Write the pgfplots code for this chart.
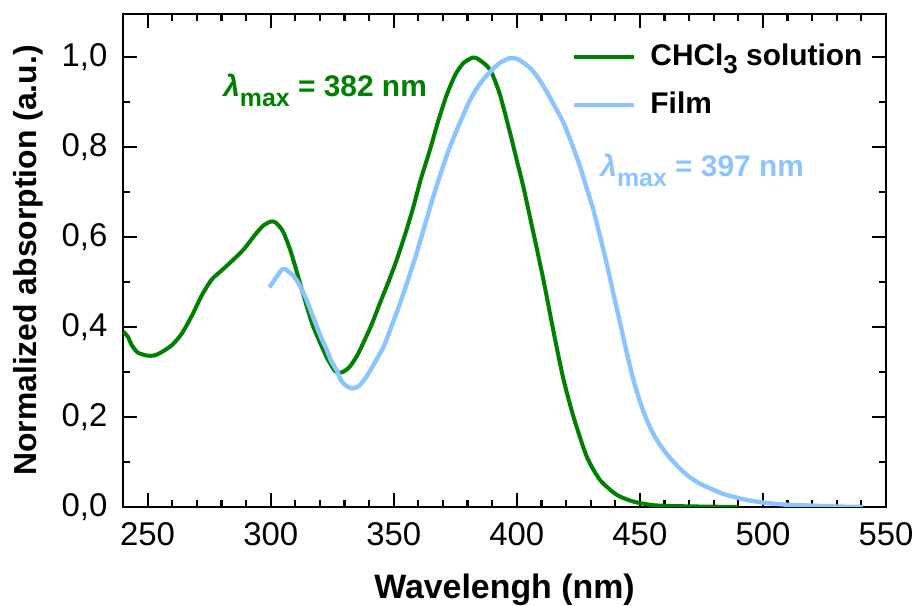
\documentclass[border=0pt]{standalone}
\usepackage{pgfplots}
\pgfplotsset{compat=1.18}
\usepackage{fontspec}
\setmainfont{Liberation Sans}
\definecolor{cgreen}{RGB}{0,128,0}
\definecolor{cblue}{RGB}{140,196,255}
\newcommand{\lmax}{{\bfseries\itshape λ}\raisebox{-5bp}{\fontsize{12.5}{12.5}\selectfont\bfseries max}}
\begin{document}
\begin{tikzpicture}
\useasboundingbox (-61.5bp,-49.5bp) rectangle (398.5bp,253.5bp);
\begin{axis}[
  scale only axis,
  width=381.5bp, height=246.5bp,
  xmin=240, xmax=550, ymin=0, ymax=1.095,
  xtick={250,300,...,550},
  minor x tick num=4,
  ytick={0,0.2,0.4,0.6,0.8,1.0},
  minor y tick num=1,
  tick align=inside,
  major tick length=7bp,
  minor tick length=3.5bp,
  every tick/.style={black, line width=1.1bp},
  axis line style={black, line width=1.25bp},
  /pgf/number format/assume math mode=true,
  yticklabel style={/pgf/number format/use comma, /pgf/number format/fixed, /pgf/number format/fixed zerofill, /pgf/number format/precision=1, xshift=-4.3bp},
  xticklabel style={/pgf/number format/fixed, /pgf/number format/precision=0, /pgf/number format/set thousands separator={}, yshift=-4.3bp},
  tick label style={font=\fontsize{16.5}{16.5}\selectfont},
  xlabel={Wavelengh (nm)},
  ylabel={Normalized absorption (a.u.)},
  xlabel style={font=\fontsize{17}{17}\selectfont\bfseries, at={(axis description cs:0.5,-0.1846)}, anchor=base},
  ylabel style={font=\fontsize{16}{16}\selectfont\bfseries, at={(axis description cs:-0.1245,0.5)}, anchor=center},
  legend style={draw=none, fill=none, at={(axis description cs:0.5885,0.941)}, anchor=north west,
    inner sep=0pt, outer sep=0pt, row sep=10bp, column sep=7bp,
    font=\fontsize{15}{15}\selectfont\bfseries,
    nodes={inner sep=0pt, text height=11bp, text depth=3bp}},
  legend cell align=left,
  legend image code/.code={\draw[#1] (0bp,0bp) -- (30bp,0bp);},
]
\addplot[cgreen, line width=2bp, smooth, tension=0.4] coordinates {
(240,0.390) (242,0.378) (243.5,0.360) (246,0.343) (250,0.336) (253,0.337) (256,0.345)
(260,0.360) (264,0.386) (268,0.425) (272,0.470) (276,0.505) (280,0.525) (284,0.545)
(289,0.572) (294,0.607) (297,0.625) (300,0.634) (302,0.632) (305,0.612) (308,0.570)
(311,0.515) (314,0.458) (317,0.405) (320,0.366) (323,0.330) (326,0.303) (328,0.298)
(330,0.302) (332.2,0.312) (335,0.335) (337.6,0.364) (341,0.405) (344.4,0.453) (348,0.502)
(351.2,0.549) (355,0.612) (358,0.667) (361,0.728) (364.7,0.793) (368,0.856) (371.5,0.915)
(375,0.960) (378.3,0.986) (382,0.998) (384,0.996) (387.8,0.980) (390,0.962) (393.2,0.915)
(397.3,0.830) (400,0.770) (402.7,0.710) (406.7,0.610) (410.8,0.505) (414.9,0.390)
(418.9,0.285) (423,0.201) (428.4,0.112) (433.8,0.060) (440.6,0.027) (447.4,0.012)
(455.5,0.004) (465,0.002) (475,0.001) (490,0.0)
};
\addlegendentry{CHCl\raisebox{-4bp}{\fontsize{13}{13}\selectfont 3} solution}
\addplot[cblue, line width=2.2bp, smooth, tension=0.4] coordinates {
(299.5,0.488) (301,0.500) (302.5,0.512) (304.5,0.527) (306,0.528) (307.2,0.523) (309,0.515)
(310.5,0.504) (312.5,0.485) (314.6,0.460) (316.7,0.430) (318.7,0.401) (320.7,0.374)
(322.8,0.349) (324.5,0.325) (326.8,0.304) (328.5,0.282) (330.5,0.270) (332.5,0.264)
(334.5,0.265) (336.3,0.271) (339,0.290) (342,0.318) (345.8,0.355) (349,0.400) (352.6,0.453)
(356,0.508) (359.3,0.564) (362.7,0.627) (366.1,0.690) (369.5,0.748) (372.9,0.801) (377,0.855)
(381,0.904) (385,0.940) (389.1,0.966) (393,0.986) (397.3,0.997) (401,0.993) (405.4,0.975)
(408.8,0.952) (412.2,0.922) (415.6,0.888) (419,0.853) (422.4,0.806) (425.7,0.756)
(428.4,0.708) (431.1,0.660) (433.8,0.602) (436.5,0.541) (439.2,0.475) (442,0.408)
(444.7,0.342) (447.4,0.282) (450,0.235) (452.8,0.193) (456,0.157) (459.6,0.127) (464,0.098)
(469.1,0.071) (474,0.053) (479.9,0.038) (485,0.027) (490.7,0.019) (495,0.014) (500,0.010)
(505,0.007) (510,0.005) (520,0.003) (530,0.001) (540.6,0.0)
};
\addlegendentry{Film}
\node[anchor=base west, inner sep=0pt, text=cgreen, font=\fontsize{15}{15}\selectfont\bfseries]
  at (axis cs:280.6,0.911) {\lmax{} = 382 nm};
\node[anchor=base west, inner sep=0pt, text=cblue, font=\fontsize{15}{15}\selectfont\bfseries]
  at (axis cs:433.8,0.734) {\lmax{} = 397 nm};
\end{axis}
\end{tikzpicture}
\end{document}
